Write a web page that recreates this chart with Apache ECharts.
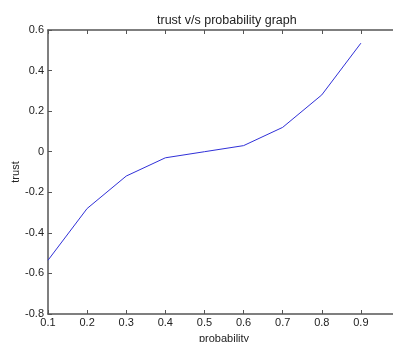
<!DOCTYPE html>
<html>
<head>
<meta charset="utf-8">
<script src="https://cdn.jsdelivr.net/npm/echarts@6/dist/echarts.min.js"></script>
<style>
  html, body { margin: 0; padding: 0; background: #fff; }
  #graph { width: 393px; height: 342px; }
</style>
</head>
<body>
<div id="graph"></div>
<script>
"use strict"

const probability = [0.1, 0.2, 0.3, 0.4, 0.5, 0.6, 0.7, 0.8, 0.9];
const trust = [-0.535, -0.28, -0.12, -0.03, 0.0, 0.03, 0.12, 0.28, 0.535];

const axisCol = "#555";
const fmt = v => Math.abs(v) < 1e-9 ? "0" : (+v.toFixed(1)).toString();

const myChart = echarts.init(document.getElementById("graph"), null, { renderer: "canvas" });

const tickIn = { show: true, inside: true, length: 4, lineStyle: { color: axisCol } };
const option = {
    backgroundColor: "#fff",
    animation: false,
    textStyle: { fontFamily: "Liberation Sans" },
    title: {
        text: "trust v/s probability graph",
        left: 152, top: 9,
        textStyle: { fontSize: 12.5, fontWeight: "normal", color: "#222" }
    },
    grid: { left: 48, top: 30, right: -7, bottom: 28, containLabel: false, outerBoundsMode: "none" },
    xAxis: [{
        type: "value",
        min: 0.1, max: 1.0, interval: 0.1,
        name: "probability",
        nameLocation: "middle",
        nameGap: 19,
        nameMoveOverlap: false,
        nameTextStyle: { fontSize: 11, color: "#222" },
        axisLine: { show: true, onZero: false, lineStyle: { color: axisCol, width: 1.5 } },
        axisTick: tickIn,
        splitLine: { show: false },
        axisLabel: { fontSize: 11, color: "#222", margin: 3, formatter: fmt }
    }, {
        type: "value",
        position: "top",
        min: 0.1, max: 1.0, interval: 0.1,
        axisLine: { show: true, onZero: false, lineStyle: { color: axisCol, width: 1.5 } },
        axisTick: tickIn,
        splitLine: { show: false },
        axisLabel: { show: false }
    }],
    yAxis: {
        type: "value",
        min: -0.8, max: 0.6, interval: 0.2,
        name: "trust",
        nameLocation: "middle",
        nameGap: 27,
        nameRotate: 90,
        nameMoveOverlap: false,
        nameTextStyle: { fontSize: 11, color: "#222" },
        axisLine: { show: true, onZero: false, lineStyle: { color: axisCol, width: 1.5 } },
        axisTick: tickIn,
        splitLine: { show: false },
        axisLabel: { fontSize: 11, color: "#222", margin: 4, formatter: fmt }
    },
    series: [{
        type: "line",
        data: probability.map((p, i) => [p, trust[i]]),
        showSymbol: false,
        lineStyle: { color: "#3030d8", width: 1 },
        itemStyle: { color: "#3030d8" }
    }]
};
myChart.setOption(option);
</script>
</body>
</html>
